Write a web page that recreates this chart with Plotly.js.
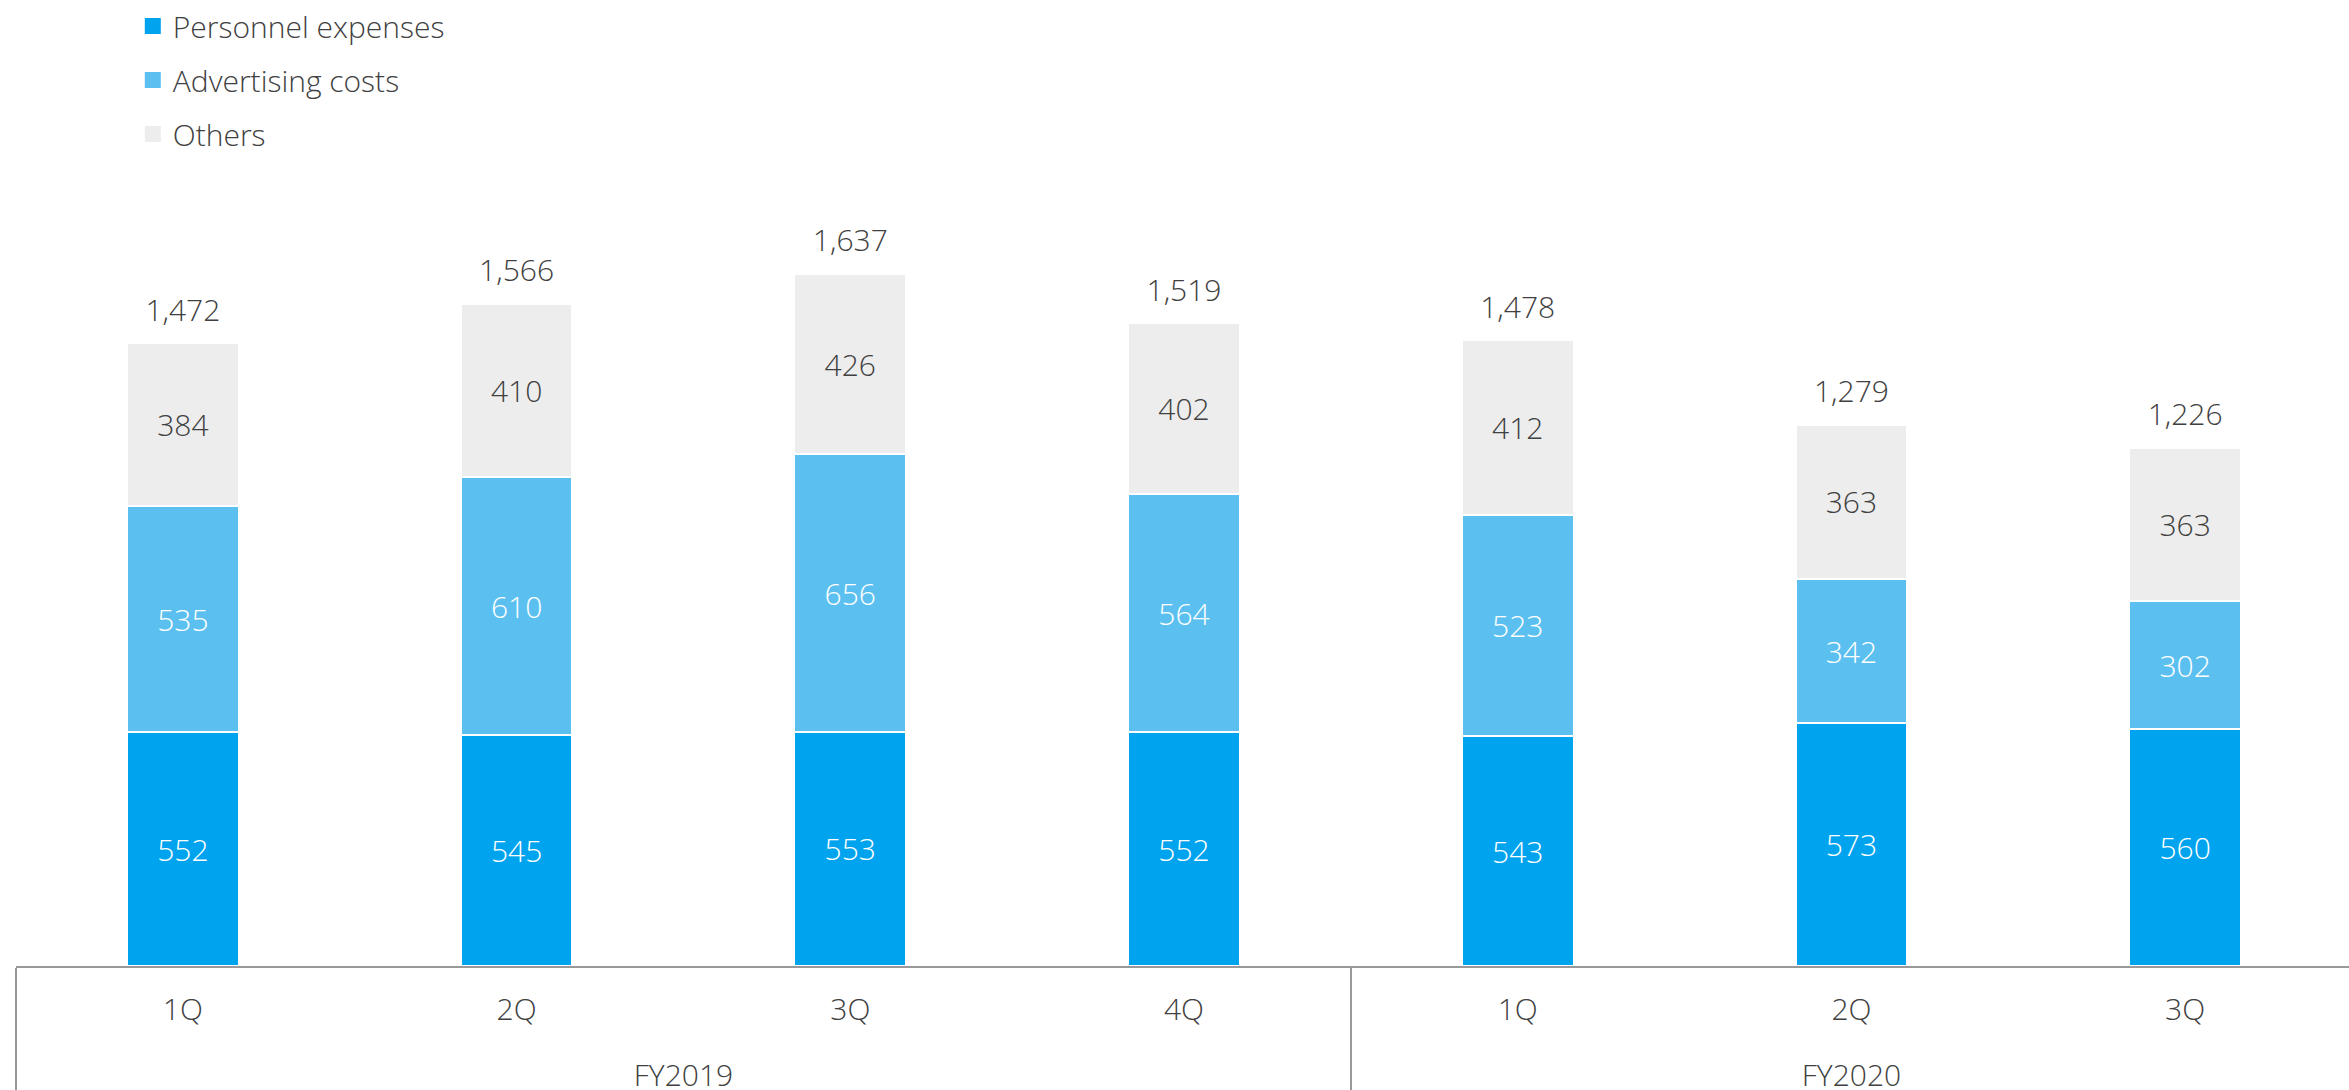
<!DOCTYPE html>
<html>
<head>
<meta charset="utf-8">
<script src="https://cdn.plot.ly/plotly-3.0.1.min.js"></script>
<style>html,body{margin:0;padding:0;background:#fff;overflow:hidden;}#chart{width:2352px;height:1090px;}</style>
</head>
<body>
<div id="chart"></div>
<script>
const fiscalYears = ["FY2019","FY2019","FY2019","FY2019","FY2020","FY2020","FY2020"];
const quarters    = ["1Q","2Q","3Q","4Q","1Q","2Q","3Q"];
const personnel   = [552, 545, 553, 552, 543, 573, 560];
const advertising = [535, 610, 656, 564, 523, 342, 302];
const others      = [384, 410, 426, 402, 412, 363, 363];
const totals      = [1472, 1566, 1637, 1519, 1478, 1279, 1226];

const seriesNames  = ["Personnel expenses", "Advertising costs", "Others"];
const seriesColors = ["#00A3EE", "#5BC0F0", "#EDEDED"];

const FONT = "'Open Sans', Lato, sans-serif";
const W = 300;
const TXT = "#404040";
// pad the quarter labels so the fiscal-year row sits lower, as in the reference
const x = [fiscalYears, quarters.map(q => q + "<br>\u00a0")];

function barTrace(i, vals, textColor) {
  return {
    type: "bar", name: seriesNames[i], x: x, y: vals,
    text: vals.map(v => String(v)), textposition: "inside", insidetextanchor: "middle",
    textangle: 0, textfont: {family: FONT, size: 30, color: textColor, weight: W},
    marker: {color: seriesColors[i], line: {color: "#ffffff", width: 2}},
    showlegend: false, hoverinfo: "skip"
  };
}

function legendTrace(i) {
  return {
    type: "scatter", mode: "markers", name: seriesNames[i],
    x: [[fiscalYears[0]], [x[1][0]]], y: [null],
    marker: {symbol: "square", size: 16, color: seriesColors[i]},
    legendgroup: seriesNames[i], hoverinfo: "skip"
  };
}

const data = [
  barTrace(0, personnel, "#ffffff"),
  barTrace(1, advertising, "#ffffff"),
  barTrace(2, others, TXT),
  {
    type: "scatter", mode: "markers+text", x: x, y: totals,
    text: totals.map(v => v.toLocaleString("en-US")),
    marker: {size: 22, color: "rgba(0,0,0,0)"},
    textposition: "top center", textfont: {family: FONT, size: 30, color: TXT, weight: W},
    showlegend: false, cliponaxis: false, hoverinfo: "skip"
  },
  legendTrace(0), legendTrace(1), legendTrace(2)
];

const layout = {
  width: 2352, height: 1090,
  margin: {l: 16, r: 0, t: 180, b: 124},
  paper_bgcolor: "#fff", plot_bgcolor: "#fff",
  barmode: "stack", bargap: 0.665,
  font: {family: FONT, size: 30, color: TXT, weight: W},
  showlegend: true,
  legend: {
    orientation: "v", x: 0.05, xanchor: "left", y: 1, yanchor: "top", yref: "container",
    traceorder: "grouped", tracegroupgap: 12,
    font: {family: FONT, size: 30, color: TXT, weight: W}, bgcolor: "rgba(0,0,0,0)"
  },
  xaxis: {
    type: "multicategory", showline: true, linecolor: "#999999", linewidth: 2,
    showgrid: false, ticks: "", ticklabelstandoff: 16,
    showdividers: true, dividercolor: "#999999", dividerwidth: 2,
    tickfont: {family: FONT, size: 30, color: TXT, weight: W}
  },
  yaxis: {
    range: [0, 1857], showgrid: false, zeroline: false, showticklabels: false, showline: false
  }
};

Plotly.newPlot("chart", data, layout, {displayModeBar: false, staticPlot: true});
</script>
</body>
</html>
